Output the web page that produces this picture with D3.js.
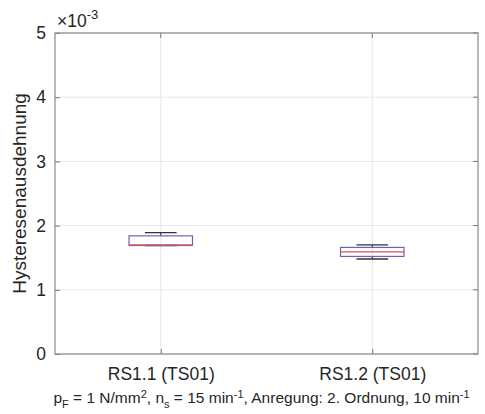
<!DOCTYPE html>
<html>
<head>
<meta charset="utf-8">
<script src="https://cdn.jsdelivr.net/npm/d3@7"></script>
<style>
  body { margin: 0; background: #fff; }
  text { font-family: "Liberation Sans", Arial, sans-serif; fill: #262626; }
</style>
</head>
<body>
<svg width="485" height="414"></svg>
<script>
// box statistics (units 1e-3)
let categories = ['RS1.1 (TS01)', 'RS1.2 (TS01)']
let whiskerLow = [1.69, 1.48]
let q1 = [1.69, 1.52]
let median = [1.70, 1.59]
let q3 = [1.84, 1.66]
let whiskerHigh = [1.89, 1.70]
let yTicks = [0, 1, 2, 3, 4, 5]

let svg = d3.select('svg')
let margin = {left: 55, right: 7, top: 33, bottom: 60}
let width = 485, height = 414

let x = d3.scaleLinear().domain([0.5, 2.5]).range([margin.left, width - margin.right])
let y = d3.scaleLinear().domain([0, 5]).range([height - margin.bottom, margin.top])

let g = svg.append('g')

// grid
g.selectAll('.gy').data(yTicks).enter().append('line')
    .attr('x1', x(0.5)).attr('x2', x(2.5))
    .attr('y1', d => y(d)).attr('y2', d => y(d))
    .attr('stroke', '#e6e6e6').attr('stroke-width', 1)
g.selectAll('.gx').data(categories).enter().append('line')
    .attr('x1', (d, i) => x(i + 1)).attr('x2', (d, i) => x(i + 1))
    .attr('y1', y(0)).attr('y2', y(5))
    .attr('stroke', '#e6e6e6').attr('stroke-width', 1)

// axes
let yAxis = d3.axisLeft(y).tickValues(yTicks).tickSize(-5).tickPadding(9).tickFormat(d3.format('d'))
let yg = g.append('g').attr('transform', `translate(${x(0.5)},0)`).call(yAxis)
let xAxis = d3.axisBottom(x).tickValues([1, 2]).tickSize(-5).tickPadding(14)
    .tickFormat((d, i) => categories[i])
let xg = g.append('g').attr('transform', `translate(0,${y(0)})`).call(xAxis)
;[yg, xg].forEach(a => {
    a.select('.domain').remove()
    a.selectAll('line').attr('stroke', '#777')
    a.selectAll('text').style('font-size', '17.5px').attr('fill', '#262626')
})
// top ticks
g.selectAll('.tt').data([1, 2]).enter().append('line')
    .attr('x1', d => x(d)).attr('x2', d => x(d))
    .attr('y1', y(5)).attr('y2', y(5) + 5).attr('stroke', '#777')
g.selectAll('.rt').data(yTicks).enter().append('line')
    .attr('x1', x(2.5)).attr('x2', x(2.5) - 5)
    .attr('y1', d => y(d)).attr('y2', d => y(d)).attr('stroke', '#777')

// frame
g.append('rect')
    .attr('x', x(0.5)).attr('y', y(5))
    .attr('width', x(2.5) - x(0.5)).attr('height', y(0) - y(5))
    .attr('fill', 'none').attr('stroke', '#8a8a8a').attr('stroke-width', 1.2)

// boxes
let boxHalf = 0.15, capHalf = 0.075
let boxes = g.selectAll('.box').data(categories).enter().append('g')
boxes.append('line') // upper whisker
    .attr('x1', (d, i) => x(i + 1)).attr('x2', (d, i) => x(i + 1))
    .attr('y1', (d, i) => y(q3[i])).attr('y2', (d, i) => y(whiskerHigh[i]))
    .attr('stroke', '#222').attr('stroke-dasharray', '3,2')
boxes.append('line')
    .attr('x1', (d, i) => x(i + 1)).attr('x2', (d, i) => x(i + 1))
    .attr('y1', (d, i) => y(q1[i])).attr('y2', (d, i) => y(whiskerLow[i]))
    .attr('stroke', '#222').attr('stroke-dasharray', '3,2')
boxes.append('line')
    .attr('x1', (d, i) => x(i + 1 - capHalf)).attr('x2', (d, i) => x(i + 1 + capHalf))
    .attr('y1', (d, i) => y(whiskerHigh[i])).attr('y2', (d, i) => y(whiskerHigh[i]))
    .attr('stroke', '#333').attr('stroke-width', 1.3)
boxes.append('line')
    .attr('x1', (d, i) => x(i + 1 - capHalf)).attr('x2', (d, i) => x(i + 1 + capHalf))
    .attr('y1', (d, i) => y(whiskerLow[i])).attr('y2', (d, i) => y(whiskerLow[i]))
    .attr('stroke', '#333').attr('stroke-width', 1.3)
boxes.append('rect')
    .attr('x', (d, i) => x(i + 1 - boxHalf))
    .attr('y', (d, i) => y(q3[i]))
    .attr('width', x(1 + boxHalf) - x(1 - boxHalf))
    .attr('height', (d, i) => y(q1[i]) - y(q3[i]))
    .attr('fill', 'none').attr('stroke', '#6b62b8').attr('stroke-width', 1.2)
boxes.append('line')
    .attr('x1', (d, i) => x(i + 1 - boxHalf)).attr('x2', (d, i) => x(i + 1 + boxHalf))
    .attr('y1', (d, i) => y(median[i])).attr('y2', (d, i) => y(median[i]))
    .attr('stroke', '#e0524a').attr('stroke-width', 1.2)

// exponent label
let ex = svg.append('text').attr('x', x(0.5) + 2).attr('y', y(5) - 6).style('font-size', '17.5px')
ex.append('tspan').text('×10')
ex.append('tspan').attr('dy', -8).style('font-size', '13px').text('-3')

// y label
svg.append('text')
    .attr('transform', `translate(26,${(y(0) + y(5)) / 2}) rotate(-90)`)
    .attr('text-anchor', 'middle').style('font-size', '19px')
    .text('Hysteresenausdehnung')

// subtitle
let st = svg.append('text').attr('x', (x(0.5) + x(2.5)) / 2 - 5).attr('y', 403)
    .attr('text-anchor', 'middle').style('font-size', '15.5px')
let parts = [['p', 0], ['F', 1], [' = 1 N/mm', 0], ['2', -1], [', n', 0], ['s', 1], [' = 15 min', 0], ['-1', -1],
    [', Anregung: 2. Ordnung, 10 min', 0], ['-1', -1]]
let prev = 0
parts.forEach(p => {
    let shift = p[1] * 5
    st.append('tspan').attr('dy', shift - prev)
        .style('font-size', p[1] ? '11px' : '15.5px').text(p[0])
    prev = shift
})
</script>
</body>
</html>
